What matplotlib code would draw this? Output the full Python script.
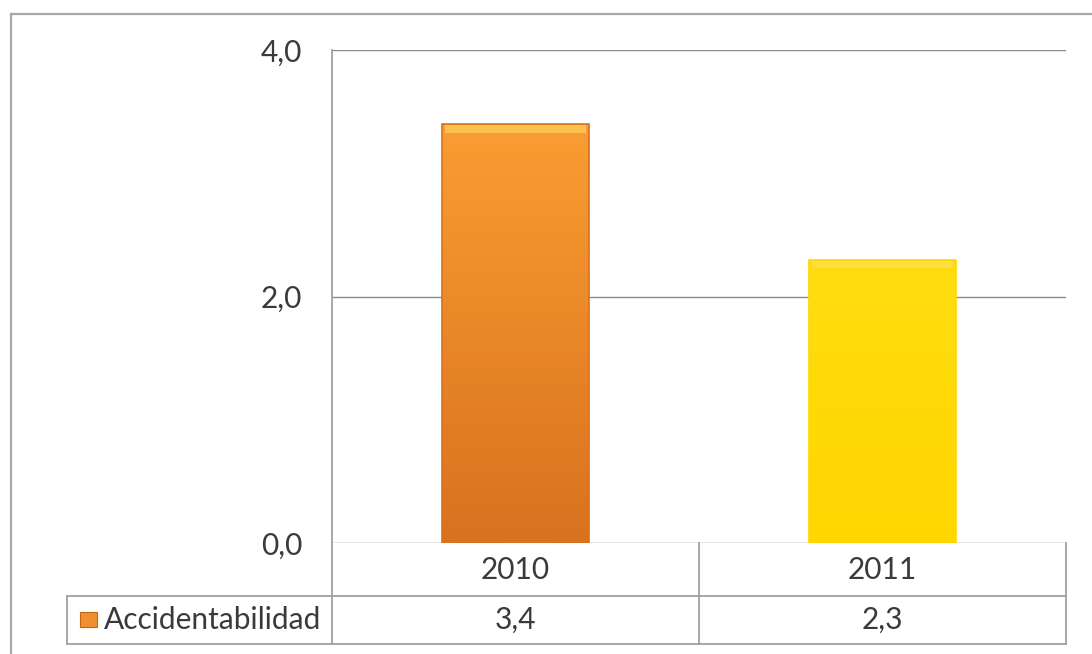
import matplotlib
matplotlib.use("Agg")
import matplotlib.pyplot as plt
import numpy as np
from matplotlib.colors import LinearSegmentedColormap
from matplotlib.patches import Rectangle
from matplotlib.lines import Line2D

years = ["2010", "2011"]
values = [3.4, 2.3]
value_labels = ["3,4", "2,3"]
series_name = "Accidentabilidad"
yticks = [0.0, 2.0, 4.0]
ytick_labels = ["0,0", "2,0", "4,0"]
bar_top_colors = ["#FA9D31", "#FFDD10"]
bar_bottom_colors = ["#D9711F", "#FFD700"]

W, H = 1092, 654
fig = plt.figure(figsize=(W / 100, H / 100), dpi=100)
plt.rcParams['font.family'] = ['Lato', 'DejaVu Sans']
TXT = "#3a3a3a"
FS = 21.5

def fx(px):
    return px / W

def fy(py):
    return 1 - py / H

ax_l, ax_r, ax_t, ax_b = 332, 1066, 50, 543
ax = fig.add_axes([fx(ax_l), fy(ax_b), fx(ax_r) - fx(ax_l), fy(ax_t) - fy(ax_b)])
ax.set_xlim(-0.5, len(years) - 0.5)
ax.set_ylim(0, 4.0)
for s in ax.spines.values():
    s.set_visible(False)
ax.set_xticks([])
ax.set_yticks(yticks)
ax.set_yticklabels(ytick_labels, fontsize=FS, color=TXT)
ax.tick_params(axis="y", length=0, pad=21.5)
for y in yticks:
    ax.axhline(y, color="#8c8c8c", lw=1.0, zorder=1)

gline = "#a0a0a0"
x = np.arange(len(years))
bars = ax.bar(x, values, width=0.4, color="none", edgecolor="none", zorder=2)
for b, ct, cb in zip(bars, bar_top_colors, bar_bottom_colors):
    cmap = LinearSegmentedColormap.from_list("g", [cb, ct])
    grad = np.linspace(0, 1, 256).reshape(-1, 1)
    x0, w = b.get_x(), b.get_width()
    h = b.get_height()
    im = ax.imshow(grad, cmap=cmap, origin="lower", aspect="auto",
                   extent=[x0, x0 + w, 0, h], zorder=3)
    im.set_clip_path(b)
    ax.add_patch(Rectangle((x0, 0), w, h, fill=False, edgecolor=cb, lw=1.2, zorder=4))
    ax.add_patch(Rectangle((x0 + w * 0.02, h - 0.07), w * 0.96, 0.06,
                           color="#FFE36A", alpha=0.55, lw=0, zorder=4))
ax.set_xlim(-0.5, len(years) - 0.5)
ax.set_ylim(0, 4.0)

def hline(y, x0, x1, color=gline, lw=1.3):
    fig.add_artist(Line2D([fx(x0), fx(x1)], [fy(y), fy(y)], color=color, lw=lw))

def vline(xp, y0, y1, color=gline, lw=1.3):
    fig.add_artist(Line2D([fx(xp), fx(xp)], [fy(y0), fy(y1)], color=color, lw=lw))

# outer frame
hline(14, 11, 1092, color="#a8a8a8", lw=1.6)
vline(11, 14, 654, color="#a8a8a8", lw=1.6)

tb = 644
vline(ax_l, ax_t, tb)
hline(596, 67, ax_r)
hline(tb, 67, ax_r)
vline(67, 596, tb)
vline(ax_r, ax_b, tb)
mid = (ax_l + ax_r) / 2
vline(mid, ax_b, tb)

col_centers = [(ax_l + mid) / 2, (mid + ax_r) / 2]
for cx, yr, vl in zip(col_centers, years, value_labels):
    fig.text(fx(cx), fy(570), yr, ha="center", va="center", fontsize=FS, color=TXT)
    fig.text(fx(cx), fy(620), vl, ha="center", va="center", fontsize=FS, color=TXT)

key = Rectangle((fx(80), fy(627)), fx(17), fy(612) - fy(627), transform=fig.transFigure,
                facecolor="#F09030", edgecolor="#C06818", lw=0.8)
fig.add_artist(key)
fig.text(fx(104), fy(620), series_name, ha="left", va="center", fontsize=FS, color=TXT)

fig.savefig("out.png", dpi=100, facecolor="white")
